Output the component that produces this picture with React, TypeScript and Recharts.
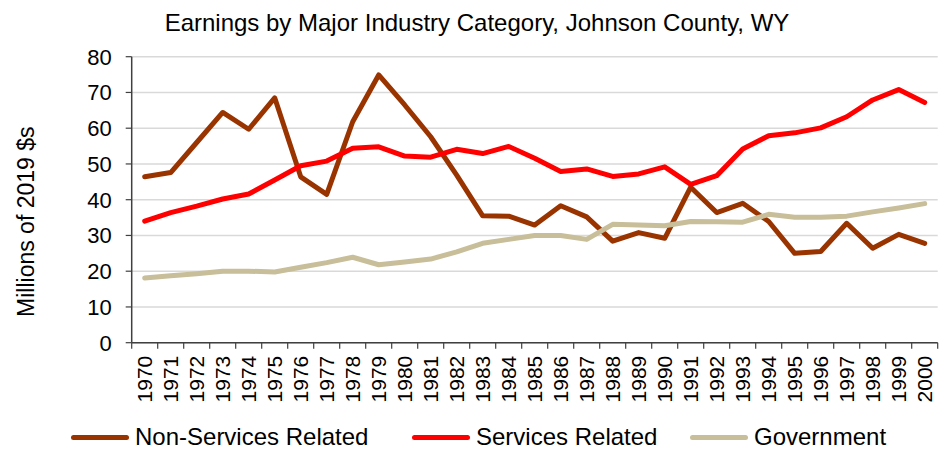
import React from 'react';
import { LineChart, Line, XAxis, YAxis, CartesianGrid, Legend } from 'recharts';

const years = [1970,1971,1972,1973,1974,1975,1976,1977,1978,1979,1980,1981,1982,1983,1984,1985,1986,1987,1988,1989,1990,1991,1992,1993,1994,1995,1996,1997,1998,1999,2000];
const nonServices = [46.4,47.6,56.0,64.4,59.7,68.5,46.4,41.5,61.8,74.9,66.5,57.6,46.9,35.5,35.4,32.9,38.3,35.2,28.4,30.8,29.2,43.5,36.4,39.0,33.9,25.0,25.5,33.4,26.4,30.3,27.8];
const services = [34.0,36.4,38.2,40.2,41.6,45.5,49.5,50.8,54.4,54.8,52.2,51.9,54.1,52.9,54.9,51.6,47.9,48.6,46.5,47.2,49.2,44.3,46.7,54.2,57.9,58.7,60.1,63.2,67.9,70.8,67.2];
const government = [18.1,18.7,19.3,20.0,20.0,19.8,21.1,22.4,23.9,21.8,22.6,23.4,25.4,27.8,28.9,30.0,30.0,28.9,33.1,32.9,32.7,33.9,33.8,33.7,35.9,35.1,35.1,35.4,36.6,37.7,38.9];
const yTicks = [0,10,20,30,40,50,60,70,80];
const boundaryTicks = [...years.map((y) => y - 0.5), years[years.length - 1] + 0.5];

const seriesInfo = [
  { key: 'nonServices', name: 'Non-Services Related', color: '#993300' },
  { key: 'services', name: 'Services Related', color: '#FF0000' },
  { key: 'government', name: 'Government', color: '#C8BE9A' },
];

const data = years.map((year, i) => ({
  year,
  nonServices: nonServices[i],
  services: services[i],
  government: government[i],
}));

const FONT = '"Liberation Sans", Arial, sans-serif';

const YearTick = (props: any) => {
  const { x, y, payload } = props;
  return (
    <text
      x={x}
      y={y + 12}
      transform={`rotate(-90, ${x}, ${y + 12})`}
      textAnchor="end"
      dy="0.35em"
      fontSize={21}
      fontFamily={FONT}
      fill="#000"
    >
      {payload.value}
    </text>
  );
};

const itemWidths = [341, 278, 220];

const LegendContent = () => (
  <div style={{ height: 40, display: 'flex', alignItems: 'flex-end', paddingLeft: 71, boxSizing: 'border-box' }}>
    {seriesInfo.map((s, i) => (
      <div key={s.key} style={{ display: 'flex', alignItems: 'center', width: itemWidths[i], height: 24, marginBottom: 0 }}>
        <div style={{ width: 58, height: 5, background: s.color, borderRadius: 3, marginRight: 6 }} />
        <span style={{ fontFamily: FONT, fontSize: 24, color: '#000', lineHeight: '24px', whiteSpace: 'nowrap' }}>{s.name}</span>
      </div>
    ))}
  </div>
);

const YLabel = (props: any) => {
  const vb = props.viewBox || { x: 0, y: 0, height: 0 };
  const cx = vb.x + 34;
  const cy = vb.y + vb.height / 2 + 22;
  return (
    <text x={cx} y={cy} transform={`rotate(-90, ${cx}, ${cy})`} textAnchor="middle" fontSize={23} fontFamily={FONT} fill="#000">
      Millions of 2019 $s
    </text>
  );
};

export default function App() {
  return (
    <div style={{ position: 'absolute', left: 0, top: 0, width: 944, height: 449, background: '#fff' }}>
      <div
        style={{
          position: 'absolute',
          left: 5,
          top: 10.5,
          width: 944,
          textAlign: 'center',
          fontFamily: FONT,
          fontSize: 24,
          lineHeight: '24px',
          color: '#000',
          whiteSpace: 'nowrap',
        }}
      >
        Earnings by Major Industry Category, Johnson County, WY
      </div>
      <LineChart width={944} height={449} data={data} margin={{ top: 56.7, right: 6.3, left: 0, bottom: 0 }}>
        <CartesianGrid horizontal vertical={false} stroke="#D9D9D9" strokeWidth={1.5} />
        <XAxis
          xAxisId={0}
          dataKey="year"
          type="number"
          domain={[1969.5, 2000.5]}
          allowDataOverflow
          ticks={boundaryTicks}
          interval={0}
          tick={() => null}
          tickSize={6}
          height={1}
          stroke="#404040"
          axisLine={{ stroke: '#404040', strokeWidth: 1.5 }}
          tickLine={{ stroke: '#404040', strokeWidth: 1.2 }}
        />
        <XAxis
          xAxisId="lbl"
          dataKey="year"
          type="number"
          domain={[1969.5, 2000.5]}
          allowDataOverflow
          ticks={years}
          interval={0}
          axisLine={false}
          tickLine={false}
          tickSize={0}
          tickMargin={0}
          height={65.3}
          tick={<YearTick />}
        />
        <YAxis
          domain={[0, 80]}
          ticks={yTicks}
          interval={0}
          width={131.7}
          tickSize={6}
          tickMargin={14}
          axisLine={{ stroke: '#404040', strokeWidth: 1.5 }}
          tickLine={{ stroke: '#404040', strokeWidth: 1.2 }}
          tick={{ fontSize: 22, fontFamily: FONT, fill: '#000' }}
          label={<YLabel />}
        />
        <Legend verticalAlign="bottom" content={<LegendContent />} />
        {seriesInfo.map((s) => (
          <Line
            key={s.key}
            type="linear"
            dataKey={s.key}
            name={s.name}
            stroke={s.color}
            strokeWidth={5}
            dot={false}
            activeDot={false}
            isAnimationActive={false}
            strokeLinejoin="round"
            strokeLinecap="round"
          />
        ))}
      </LineChart>
    </div>
  );
}
